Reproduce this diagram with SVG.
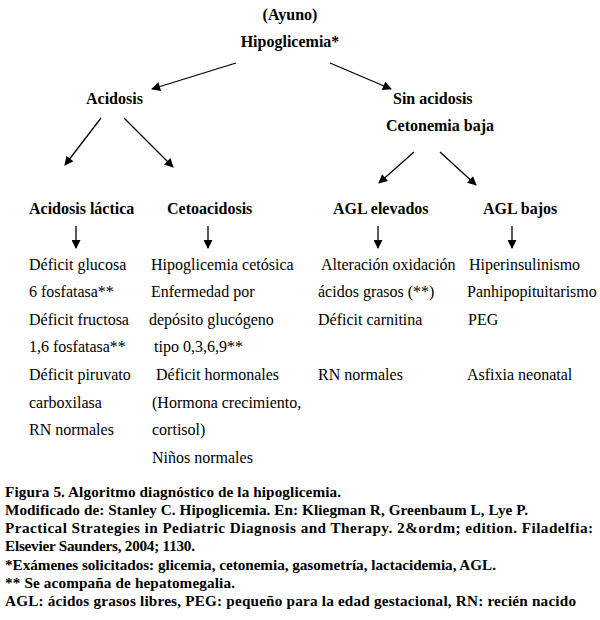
<svg xmlns="http://www.w3.org/2000/svg" width="600" height="620" viewBox="0 0 600 620">
<defs>
<marker id="ah" viewBox="0 0 10 10" refX="9" refY="5" markerWidth="10" markerHeight="9" markerUnits="userSpaceOnUse" orient="auto">
<path d="M0,0 L10,5 L0,10 Z" fill="#000"/>
</marker>
<style>
.h{font-size:16px;font-weight:bold}
.b{font-size:16px}
.c{font-size:15.2px;font-weight:bold}
line{stroke:#000;stroke-width:1.3}
</style>
</defs>
<rect width="600" height="620" fill="#fff"/>
<g id="connectors">
<line x1="236" y1="63" x2="152" y2="89" marker-end="url(#ah)"/>
<line x1="330" y1="63" x2="391" y2="89" marker-end="url(#ah)"/>
<line x1="101" y1="118" x2="65" y2="165" marker-end="url(#ah)"/>
<line x1="124" y1="118" x2="173" y2="167" marker-end="url(#ah)"/>
<line x1="414" y1="152" x2="379" y2="183" marker-end="url(#ah)"/>
<line x1="440" y1="152" x2="476" y2="185" marker-end="url(#ah)"/>
<line x1="76" y1="226" x2="76" y2="248" marker-end="url(#ah)"/>
<line x1="208" y1="226" x2="208" y2="248" marker-end="url(#ah)"/>
<line x1="378" y1="226" x2="378" y2="248" marker-end="url(#ah)"/>
<line x1="512" y1="226" x2="512" y2="248" marker-end="url(#ah)"/>
</g>
<g font-family="Liberation Serif, Times New Roman, serif" fill="#000">
<g id="root">
<text class="h" x="290" y="20" text-anchor="middle">(Ayuno)</text>
<text class="h" x="290" y="47" text-anchor="middle">Hipoglicemia*</text>
</g>
<g id="acidosis"><text class="h" x="86" y="104">Acidosis</text></g>
<g id="sin-acidosis">
<text class="h" x="393" y="104">Sin acidosis</text>
<text class="h" x="386" y="131">Cetonemia baja</text>
</g>
<g id="acidosis-lactica">
<text class="h" x="29" y="214">Acidosis láctica</text>
<text class="b" x="29" y="270">Déficit glucosa</text>
<text class="b" x="29" y="297">6 fosfatasa**</text>
<text class="b" x="29" y="325">Déficit fructosa</text>
<text class="b" x="29" y="352">1,6 fosfatasa**</text>
<text class="b" x="29" y="380">Déficit piruvato</text>
<text class="b" x="29" y="408">carboxilasa</text>
<text class="b" x="29" y="435">RN normales</text>
</g>
<g id="cetoacidosis">
<text class="h" x="167" y="214">Cetoacidosis</text>
<text class="b" x="151" y="270">Hipoglicemia cetósica</text>
<text class="b" x="151" y="297">Enfermedad por</text>
<text class="b" x="149" y="325">depósito glucógeno</text>
<text class="b" x="154" y="352">tipo 0,3,6,9**</text>
<text class="b" x="156" y="380">Déficit hormonales</text>
<text class="b" x="152" y="408">(Hormona crecimiento,</text>
<text class="b" x="152" y="435">cortisol)</text>
<text class="b" x="152" y="463">Niños normales</text>
</g>
<g id="agl-elevados">
<text class="h" x="333" y="214">AGL elevados</text>
<text class="b" x="321" y="270">Alteración oxidación</text>
<text class="b" x="318" y="297">ácidos grasos (**)</text>
<text class="b" x="318" y="325">Déficit carnitina</text>
<text class="b" x="318" y="380">RN normales</text>
</g>
<g id="agl-bajos">
<text class="h" x="483" y="214">AGL bajos</text>
<text class="b" x="469" y="270">Hiperinsulinismo</text>
<text class="b" x="467" y="297">Panhipopituitarismo</text>
<text class="b" x="468" y="325">PEG</text>
<text class="b" x="467" y="380">Asfixia neonatal</text>
</g>
<g id="caption">
<text class="c" x="5" y="497" textLength="336">Figura 5. Algoritmo diagnóstico de la hipoglicemia.</text>
<text class="c" x="5" y="515" textLength="523">Modificado de: Stanley C. Hipoglicemia. En: Kliegman R, Greenbaum L, Lye P.</text>
<text class="c" x="5" y="533" textLength="588">Practical Strategies in Pediatric Diagnosis and Therapy. 2&amp;ordm; edition. Filadelfia:</text>
<text class="c" x="5" y="551" textLength="190">Elsevier Saunders, 2004; 1130.</text>
<text class="c" x="5" y="570" textLength="491">*Exámenes solicitados: glicemia, cetonemia, gasometría, lactacidemia, AGL.</text>
<text class="c" x="5" y="588" textLength="230">** Se acompaña de hepatomegalia.</text>
<text class="c" x="5" y="606" textLength="571">AGL: ácidos grasos libres, PEG: pequeño para la edad gestacional, RN: recién nacido</text>
</g>
</g>
</svg>
